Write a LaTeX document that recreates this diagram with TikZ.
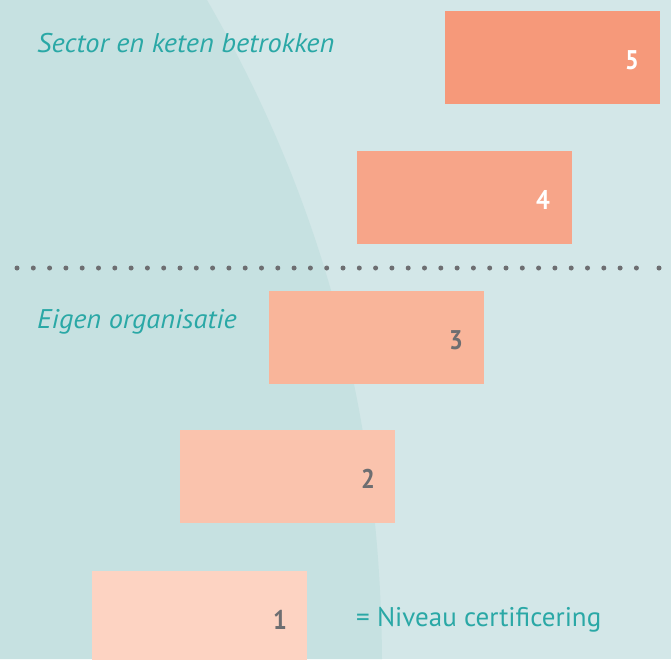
\documentclass[tikz,border=0pt]{standalone}
\usepackage{fontspec}
\setmainfont{PT Sans}
\newfontfamily\labfont{PT Sans}
\newfontfamily\itlabfont[FakeStretch=1.05]{PT Sans Italic}
\newfontfamily\numfont[FakeStretch=0.9]{PT Sans Bold}
\definecolor{bgright}{HTML}{D3E7E8}
\definecolor{bgleft}{HTML}{C6E1E1}
\definecolor{teal}{HTML}{2AA8A6}
\definecolor{dotgrey}{HTML}{6D6E71}
\definecolor{numgrey}{HTML}{6D6E71}
\definecolor{lvA}{HTML}{FDD3C2}
\definecolor{lvB}{HTML}{FAC3AD}
\definecolor{lvC}{HTML}{F9B59A}
\definecolor{lvD}{HTML}{F7A589}
\definecolor{lvE}{HTML}{F6997A}
\tikzset{
  levelbox/.style={draw=none, minimum width=215pt, minimum height=93pt, inner sep=0pt, anchor=north west},
  levelnum/.style={font=\numfont\fontsize{27}{29}\selectfont, inner sep=0pt},
  label/.style={font=\labfont\fontsize{27}{29}\selectfont, text=teal, inner sep=0pt, anchor=west},
  itlabel/.style={label, font=\itlabfont\fontsize{27}{29}\selectfont},
  dot/.style={circle, fill=dotgrey, draw=none, minimum size=5pt, inner sep=0pt}
}
\begin{document}
\begin{tikzpicture}[x=1pt,y=-1pt]
\useasboundingbox (0,0) rectangle (671,659);
\fill[bgright] (0,0) rectangle (671,659);
\fill[bgleft] (0,0) -- (207,0) .. controls (305,170) and (380,380) .. (382,659) -- (0,659) -- cycle;
% dotted separator
\foreach \i in {0,...,38} {
  \node[dot] (d\i) at ({17+16.3*\i},268) {};
}
\node[dot] (dlast) at (659,268) {};
% boxes
\node[levelbox, fill=lvE] (b5) at (445,11) {};
\node[levelbox, fill=lvD] (b4) at (357,151) {};
\node[levelbox, fill=lvC] (b3) at (269,291) {};
\node[levelbox, fill=lvB] (b2) at (180,430) {};
\node[levelbox, fill=lvA, minimum height=95pt] (b1) at (92,571) {};
% numbers
\node[levelnum, text=white] (n5) at (632,60) {5};
\node[levelnum, text=white] (n4) at (543,200) {4};
\node[levelnum, text=numgrey] (n3) at (456,340) {3};
\node[levelnum, text=numgrey] (n2) at (368,479) {2};
\node[levelnum, text=numgrey] (n1) at (280,620) {1};
% labels
\node[itlabel] (l1) at (37,43) {Sector en keten betrokken};
\node[itlabel] (l2) at (37,322) {Eigen organisatie};
\node[label] (l3) at (356,620) {= Niveau certificering};
\end{tikzpicture}
\end{document}
